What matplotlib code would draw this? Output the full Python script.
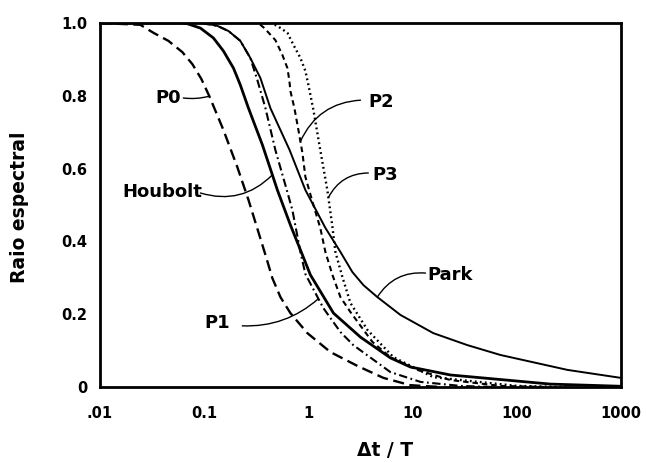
import numpy as np
import matplotlib
matplotlib.use("Agg")
import matplotlib.pyplot as plt

plt.rcParams["font.family"] = ["DejaVu Sans"]
plt.rcParams["lines.scale_dashes"] = False

# Spectral radius versus dt/T for several integration schemes
p0_x = [0.01, 0.0244, 0.0326, 0.0453, 0.0617, 0.077, 0.094, 0.112, 0.153, 0.208, 0.266, 0.331, 0.387,
        0.451, 0.539, 0.672, 0.978, 1.626, 2.95, 5.25, 9.52, 18.5]
p0_y = [1.0, 0.995, 0.973, 0.951, 0.920, 0.887, 0.846, 0.799, 0.706, 0.604, 0.514, 0.426, 0.363,
        0.299, 0.247, 0.203, 0.148, 0.096, 0.058, 0.025, 0.005, 0.0]

houbolt_x = [0.01, 0.06, 0.069, 0.092, 0.1225, 0.153, 0.191, 0.222, 0.266, 0.362, 0.432, 0.504, 0.672,
             0.876, 1.045, 1.74, 3.16, 6.12, 9.52, 23.1, 210.0, 1000.0]
houbolt_y = [1.0, 1.0, 0.998, 0.986, 0.959, 0.923, 0.876, 0.830, 0.766, 0.665, 0.599, 0.541, 0.445,
             0.363, 0.308, 0.203, 0.137, 0.080, 0.055, 0.033, 0.008, 0.002]

p1_x = [0.01, 0.092, 0.134, 0.171, 0.222, 0.277, 0.324, 0.387, 0.482, 0.601, 0.702, 0.838, 0.936,
        1.39, 2.03, 2.70, 6.12, 11.9, 28.8, 60.0]
p1_y = [1.0, 1.0, 0.992, 0.978, 0.951, 0.904, 0.843, 0.766, 0.651, 0.555, 0.486, 0.371, 0.310,
        0.217, 0.151, 0.115, 0.041, 0.014, 0.003, 0.0]

park_x = [0.01, 0.1, 0.134, 0.171, 0.222, 0.277, 0.346, 0.432, 0.66, 0.936, 1.456, 2.03, 2.64,
          3.37, 4.59, 7.64, 15.8, 33.6, 69.6, 306.0, 1000.0]
park_y = [1.0, 1.0, 0.992, 0.978, 0.951, 0.904, 0.849, 0.766, 0.651, 0.541, 0.437, 0.371, 0.316,
          0.280, 0.247, 0.198, 0.148, 0.115, 0.088, 0.047, 0.025]

p2_x = [0.01, 0.33, 0.378, 0.482, 0.563, 0.629, 0.657, 0.672, 0.734, 0.802, 0.876, 0.936, 1.117, 1.30,
        1.456, 1.70, 2.03, 2.53, 4.11, 6.12, 11.1, 23.1, 69.6, 200.0]
p2_y = [1.0, 1.0, 0.986, 0.953, 0.912, 0.876, 0.841, 0.813, 0.766, 0.706, 0.643, 0.577, 0.500, 0.437,
        0.371, 0.308, 0.247, 0.206, 0.124, 0.082, 0.047, 0.019, 0.003, 0.0]

p3_x = [0.01, 0.432, 0.504, 0.629, 0.718, 0.838, 0.936, 1.0, 1.117, 1.30, 1.52, 1.70, 1.816, 2.12,
        2.53, 3.68, 6.54, 15.8, 101.0, 300.0]
p3_y = [1.0, 1.0, 0.992, 0.973, 0.940, 0.904, 0.868, 0.830, 0.761, 0.651, 0.541, 0.440, 0.371, 0.302,
        0.231, 0.157, 0.082, 0.027, 0.003, 0.0]

x_ticks = [0.01, 0.1, 1, 10, 100, 1000]
x_tick_labels = [".01", "0.1", "1", "10", "100", "1000"]
y_ticks = [0, 0.2, 0.4, 0.6, 0.8, 1.0]
y_tick_labels = ["0", "0.2", "0.4", "0.6", "0.8", "1.0"]

fig = plt.figure(figsize=(6.46, 4.63), dpi=100)
ax = fig.add_axes([100 / 646, 76 / 463, 521 / 646, 364 / 463])

ax.plot(p0_x, p0_y, color="black", lw=1.7, dashes=(8, 4))
ax.plot(houbolt_x, houbolt_y, color="black", lw=2.0)
ax.plot(p1_x, p1_y, color="black", lw=1.5, dashes=(6, 2.5, 1.3, 2.5))
ax.plot(park_x, park_y, color="black", lw=1.4)
ax.plot(p2_x, p2_y, color="black", lw=1.5, dashes=(4, 2.8))
ax.plot(p3_x, p3_y, color="black", lw=1.7, dashes=(1.3, 2.3))

ax.set_xscale("log")
ax.set_xlim(0.01, 1000)
ax.set_ylim(0, 1.0)
ax.minorticks_off()
ax.set_xticks(x_ticks)
ax.set_xticklabels(x_tick_labels)
ax.set_yticks(y_ticks)
ax.set_yticklabels(y_tick_labels)
ax.tick_params(axis="both", length=0, labelsize=10.5)
ax.tick_params(axis="x", pad=14)
ax.tick_params(axis="y", pad=9)
for lab in ax.get_xticklabels() + ax.get_yticklabels():
    lab.set_fontweight("bold")
for sp in ax.spines.values():
    sp.set_linewidth(2.0)


def on_curve(xs, ys, x):
    return float(np.interp(np.log10(x), np.log10(xs), ys))


# curve labels with leader lines: (text, text pos, leader start, leader end x, curve, rad)
labels = [
    ("P0", (0.0453, 0.794), (0.063, 0.794), 0.112, (p0_x, p0_y), 0.1),
    ("Houbolt", (0.0393, 0.536), (0.092, 0.533), 0.451, (houbolt_x, houbolt_y), 0.3),
    ("P1", (0.134, 0.176), (0.232, 0.168), 1.247, (p1_x, p1_y), 0.2),
    ("P2", (5.02, 0.783), (3.16, 0.788), 0.838, (p2_x, p2_y), 0.3),
    ("P3", (5.48, 0.582), (3.76, 0.588), 1.555, (p3_x, p3_y), 0.3),
    ("Park", (23.1, 0.308), (13.3, 0.313), 4.59, (park_x, park_y), 0.3),
]
for text, tpos, start, end_x, (cx, cy), rad in labels:
    ax.text(tpos[0], tpos[1], text, ha="center", va="center",
            fontsize=13, fontweight="bold")
    ax.annotate("", xy=(end_x, on_curve(cx, cy, end_x)), xytext=start,
                arrowprops=dict(arrowstyle="-", lw=1.0, color="black",
                                connectionstyle=f"arc3,rad={rad}",
                                shrinkA=0, shrinkB=0))

fig.text(20 / 646, (463 - 207) / 463, "Raio espectral", rotation=90,
         ha="center", va="center", fontsize=13.5, fontweight="bold")
fig.text(385 / 646, (463 - 451) / 463, "Δt / T", ha="center", va="center",
         fontsize=13.5, fontweight="bold")

fig.savefig("out.png", dpi=100)
